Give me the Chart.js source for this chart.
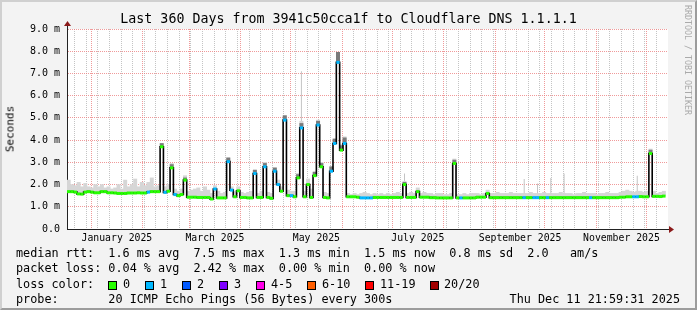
<!DOCTYPE html>
<html>
<head>
<meta charset="utf-8">
<script src="https://cdn.jsdelivr.net/npm/chart.js@4.4.0/dist/chart.umd.min.js"></script>
<style>
  html, body { margin: 0; padding: 0; background: #fff; }
  #wrap { position: relative; width: 697px; height: 310px; background: #f3f3f3; overflow: hidden;
          font-family: "DejaVu Sans Mono", monospace; color: #000; }
  #frame { position: absolute; left: 0; top: 0; width: 697px; height: 310px; box-sizing: border-box;
           border: 2px solid; border-color: #d0d0d0 #9c9c9c #9c9c9c #d0d0d0; pointer-events: none; }
  canvas { position: absolute; left: 0; top: 0; }
  .t { position: absolute; white-space: pre; }
  #title { left: 0; width: 697px; text-align: center; top: 11px; font-size: 13.3px; line-height: 16px; }
  #ylab { left: 10px; top: 129px; font-size: 11px; transform: translate(-50%, -50%) rotate(-90deg); }
  #credit { left: 683px; top: 5px; font-size: 8.3px; color: #aaa; writing-mode: vertical-rl; }
  #legend { left: 16px; top: 246px; font-size: 11.8px; line-height: 15.3px; margin: 0; }
  .k { position: absolute; top: 277px; font-size: 11.8px; line-height: 15.3px; white-space: pre; }
  .box { position: absolute; top: 281px; width: 7px; height: 7px; border: 1px solid #000; }
  #date { right: 17px; top: 292px; font-size: 11.8px; line-height: 15.3px; }
</style>
</head>
<body>
<div id="wrap">
  <canvas id="myChart" width="697" height="310"></canvas>
  <div class="t" id="title">Last 360 Days from 3941c50cca1f to Cloudflare DNS 1.1.1.1</div>
  <div class="t" id="ylab">Seconds</div>
  <div class="t" id="credit">RRDTOOL / TOBI OETIKER</div>
  <pre class="t" id="legend">median rtt:  1.6 ms avg  7.5 ms max  1.3 ms min  1.5 ms now  0.8 ms sd  2.0   am/s
packet loss: 0.04 % avg  2.42 % max  0.00 % min  0.00 % now
loss color:
probe:       20 ICMP Echo Pings (56 Bytes) every 300s</pre>
  <div id="lossKey"></div>
  <div class="t" id="date">Thu Dec 11 21:59:31 2025</div>
  <div id="frame"></div>
</div>
<script>
// days counted from 2025-01-01, one sample every 2 days
const firstDay = -13.5;
const stepDays = 2;

// median rtt (ms)
const median = [
  1.68, 1.68, 1.66, 1.58, 1.57, 1.66, 1.68, 1.66, 1.63, 1.63, 1.68, 1.68, 1.63, 1.63, 1.62, 1.60, 1.60, 1.60, 1.62, 1.62,
  1.62, 1.63, 1.62, 1.62, 1.66, 1.68, 1.68, 1.68, 3.70, 1.65, 1.70, 2.75, 1.55, 1.50, 1.55, 2.20, 1.43, 1.43, 1.43, 1.42,
  1.42, 1.42, 1.42, 1.35, 1.80, 1.40, 1.40, 1.40, 3.03, 1.75, 1.45, 1.72, 1.42, 1.42, 1.40, 1.40, 2.50, 1.42, 1.42, 2.80,
  1.42, 1.38, 2.60, 2.00, 1.70, 4.90, 1.50, 1.50, 1.45, 2.30, 4.55, 1.45, 2.00, 1.42, 2.40, 4.68, 2.80, 1.42, 1.40, 2.60,
  3.85, 7.50, 3.55, 3.85, 1.45, 1.45, 1.45, 1.43, 1.40, 1.40, 1.40, 1.40, 1.42, 1.42, 1.42, 1.42, 1.42, 1.42, 1.42, 1.42,
  1.42, 2.00, 1.42, 1.42, 1.42, 1.68, 1.43, 1.43, 1.43, 1.41, 1.41, 1.40, 1.40, 1.40, 1.40, 1.40, 2.95, 1.40, 1.40, 1.40,
  1.40, 1.40, 1.40, 1.43, 1.43, 1.43, 1.60, 1.41, 1.41, 1.41, 1.41, 1.41, 1.41, 1.41, 1.41, 1.41, 1.41, 1.41, 1.41, 1.41,
  1.41, 1.41, 1.41, 1.41, 1.41, 1.41, 1.41, 1.41, 1.41, 1.41, 1.41, 1.41, 1.41, 1.41, 1.41, 1.41, 1.41, 1.41, 1.41, 1.41,
  1.41, 1.41, 1.41, 1.41, 1.41, 1.41, 1.43, 1.43, 1.45, 1.45, 1.45, 1.45, 1.46, 1.45, 1.45, 3.40, 1.47, 1.47, 1.46, 1.48
];

// lost pings per sample (index into lossColors)
const loss = [
  0, 0, 0, 0, 0, 0, 0, 0, 0, 0, 0, 0, 0, 0, 0, 0, 0, 0, 0, 0,
  0, 0, 0, 0, 1, 0, 0, 0, 0, 1, 0, 0, 1, 0, 0, 0, 0, 0, 0, 0,
  0, 0, 0, 0, 1, 0, 0, 0, 1, 1, 0, 0, 0, 0, 0, 0, 1, 0, 0, 1,
  0, 0, 1, 1, 0, 1, 0, 1, 0, 0, 1, 0, 0, 0, 0, 1, 0, 0, 0, 1,
  1, 1, 0, 1, 0, 0, 0, 0, 1, 1, 1, 1, 0, 0, 0, 0, 0, 0, 0, 0,
  0, 0, 0, 0, 0, 0, 0, 0, 0, 0, 0, 0, 0, 0, 0, 0, 0, 0, 1, 0,
  0, 0, 0, 0, 0, 0, 0, 0, 0, 0, 0, 0, 0, 0, 0, 0, 0, 1, 0, 0,
  1, 1, 0, 0, 1, 0, 0, 0, 0, 0, 0, 0, 0, 0, 0, 0, 0, 1, 0, 0,
  0, 0, 0, 0, 0, 0, 0, 0, 0, 0, 1, 1, 0, 0, 0, 0, 0, 0, 0, 0
];

// top of the smoke (slowest ping, ms)
const smokeHi = [
  2.20, 2.00, 1.95, 2.10, 1.90, 2.05, 1.90, 1.85, 2.00, 1.90, 2.00, 1.85, 1.90, 1.80, 1.85, 2.00, 1.80, 2.20, 1.90, 2.00,
  2.25, 1.90, 2.10, 1.95, 2.10, 2.30, 1.90, 1.95, 3.80, 1.90, 2.00, 2.95, 1.80, 1.70, 1.80, 2.40, 1.70, 1.75, 1.80, 1.85,
  1.70, 1.90, 1.75, 1.60, 1.95, 1.70, 1.60, 1.65, 3.20, 1.90, 1.70, 1.90, 1.65, 1.60, 1.65, 1.70, 2.65, 1.60, 1.70, 3.00,
  1.65, 1.60, 2.75, 2.20, 1.90, 5.10, 1.75, 1.70, 1.70, 2.50, 4.85, 1.70, 2.25, 1.80, 2.60, 4.90, 3.00, 1.65, 1.60, 2.80,
  4.05, 7.95, 3.80, 4.15, 1.60, 1.55, 1.60, 1.55, 1.60, 1.65, 1.60, 1.55, 1.60, 1.55, 1.60, 1.55, 1.60, 1.55, 1.60, 1.65,
  1.60, 2.15, 1.60, 1.65, 1.60, 1.85, 1.60, 1.65, 1.60, 1.60, 1.55, 1.60, 1.60, 1.55, 1.55, 1.60, 3.15, 1.55, 1.55, 1.60,
  1.55, 1.60, 1.60, 1.60, 1.55, 1.60, 1.75, 1.60, 1.60, 1.65, 1.60, 1.60, 1.60, 1.65, 1.60, 1.60, 1.60, 1.60, 1.60, 1.65,
  1.60, 1.60, 1.60, 1.65, 1.60, 1.60, 1.60, 1.60, 1.65, 1.60, 1.60, 1.60, 1.55, 1.60, 1.60, 1.65, 1.60, 1.60, 1.60, 1.55,
  1.60, 1.60, 1.65, 1.60, 1.60, 1.60, 1.65, 1.70, 1.75, 1.70, 1.65, 1.70, 1.70, 1.65, 1.70, 3.60, 1.70, 1.60, 1.65, 1.70
];

// single slow pings that show as thin smoke lines
const outIdx = [70, 101, 137, 141, 145, 149, 171];
const outTop = [7.10, 2.50, 2.25, 2.05, 2.30, 2.50, 2.40];

// dense (dark) smoke above the median on the spikes
const darkIdx = [28, 31, 35, 48, 56, 59, 62, 65, 69, 70, 74, 75, 76, 79, 80, 81, 82, 83, 101, 116, 175];
const darkTop = [3.85, 2.90, 2.30, 3.20, 2.65, 2.95, 2.75, 5.10, 2.45, 4.75, 2.55, 4.85, 2.95, 2.80, 4.05, 7.95, 3.75, 4.10, 2.10, 3.10, 3.55];

const lossLabels = ['0', '1', '2', '3', '4-5', '6-10', '11-19', '20/20'];
const lossColors = ['#26ff00', '#00b8ff', '#0059ff', '#7e00ff', '#ff00ea', '#ff5e00', '#ff0000', '#a10000'];

const monthStarts = [0, 31, 59, 90, 120, 151, 181, 212, 243, 273, 304, 334];
const monthLabels = ['January 2025', 'March 2025', 'May 2025', 'July 2025', 'September 2025', 'November 2025'];
const monthLabelDays = [15.5, 74.5, 135.5, 196.5, 258, 319];
const yTickValues = [0, 1, 2, 3, 4, 5, 6, 7, 8, 9];
const yTickLabels = ['0.0', '1.0 m', '2.0 m', '3.0 m', '4.0 m', '5.0 m', '6.0 m', '7.0 m', '8.0 m', '9.0 m'];

// loss colour key under the graph
const keyBoxX = [108, 145, 182, 219, 256, 307, 365, 430];
const keyTextX = [123, 160, 197, 234, 271, 322, 380, 444];
const key = document.getElementById('lossKey');
lossLabels.forEach((lab, i) => {
  const b = document.createElement('div');
  b.className = 'box';
  b.style.left = keyBoxX[i] + 'px';
  b.style.background = lossColors[i];
  key.appendChild(b);
  const s = document.createElement('div');
  s.className = 'k';
  s.style.left = keyTextX[i] + 'px';
  s.textContent = lab;
  key.appendChild(s);
});

const xs = median.map((_, i) => firstDay + i * stepDays);

// grid: sundays (minor) and first of month (major)
const weekDays = [];
for (let d = -10; d <= 345; d += 7) weekDays.push(d);
const xTickDays = [...new Set([...weekDays, ...monthStarts, ...monthLabelDays])].sort((a, b) => a - b);
const yMinor = [];
for (let v = 0; v <= 9; v += 0.5) yMinor.push(v);

const RED = 'rgba(235, 120, 120, 0.75)';
const GRAY = 'rgba(190, 190, 190, 0.9)';
const X_MIN = -14.5, X_MAX = 347;

const rrdFrame = {
  id: 'rrdFrame',
  beforeDraw(chart) {
    const { ctx, chartArea: a } = chart;
    ctx.save();
    ctx.fillStyle = '#fff';
    ctx.fillRect(a.left, a.top, a.right - a.left, a.bottom - a.top);
    ctx.restore();
  },
  afterDraw(chart) {
    const { ctx, chartArea: a } = chart;
    const x0 = Math.round(a.left) + 0.5;
    const y0 = Math.round(a.bottom) + 0.5;
    ctx.save();
    ctx.strokeStyle = '#222';
    ctx.lineWidth = 1;
    ctx.beginPath();
    ctx.moveTo(x0, a.top);
    ctx.lineTo(x0, a.top - 4);
    ctx.moveTo(a.right, y0);
    ctx.lineTo(a.right + 1, y0);
    ctx.stroke();
    ctx.fillStyle = '#8b1a1a';
    ctx.beginPath();
    ctx.moveTo(x0, a.top - 8);
    ctx.lineTo(x0 - 3.5, a.top - 3);
    ctx.lineTo(x0 + 3.5, a.top - 3);
    ctx.fill();
    ctx.beginPath();
    ctx.moveTo(a.right + 6, y0);
    ctx.lineTo(a.right + 1, y0 - 3.5);
    ctx.lineTo(a.right + 1, y0 + 3.5);
    ctx.fill();
    ctx.restore();
  }
};

Chart.defaults.font.family = '"DejaVu Sans Mono", monospace';

const smokeBar = { type: 'bar', xAxisID: 'xd', grouped: false, barPercentage: 1, categoryPercentage: 1 };

const ctx = document.getElementById('myChart').getContext('2d');
const myChart = new Chart(ctx, {
  type: 'line',
  data: {
    datasets: [
      {
        label: 'loss colour',
        data: xs.map((x, i) => ({ x, y: median[i] })),
        showLine: false,
        pointStyle: 'line',
        pointRadius: 1.7,
        pointBorderWidth: 3,
        pointBorderColor: loss.map(l => lossColors[l]),
        order: 0
      },
      {
        label: 'median rtt',
        data: xs.map((x, i) => ({ x, y: median[i] })),
        stepped: 'middle',
        borderColor: '#000',
        borderWidth: 1.6,
        pointRadius: 0,
        order: 1
      },
      {
        ...smokeBar,
        label: 'dense smoke',
        data: darkIdx.map((k, j) => ({ x: xs[k], y: [median[k], darkTop[j]] })),
        backgroundColor: '#7a7a7a',
        order: 2
      },
      {
        ...smokeBar,
        label: 'smoke',
        data: xs.map((x, i) => ({ x, y: [median[i], smokeHi[i]] })),
        backgroundColor: '#d6d6d6',
        order: 3
      },
      {
        ...smokeBar,
        label: 'smoke outliers',
        data: outIdx.map((k, j) => ({ x: xs[k], y: [median[k], outTop[j]] })),
        backgroundColor: '#c4c4c4',
        barPercentage: 0.3,
        order: 4
      }
    ]
  },
  options: {
    responsive: false,
    animation: false,
    layout: { padding: { top: 29, right: 29, bottom: 61, left: 0 } },
    plugins: { legend: { display: false }, tooltip: { enabled: false } },
    scales: {
      x: {
        type: 'linear',
        min: X_MIN,
        max: X_MAX,
        offset: false,
        afterBuildTicks: s => { s.ticks = xTickDays.map(v => ({ value: v })); },
        afterFit: s => { s.height = 20; },
        grid: {
          offset: false,
          drawTicks: false,
          color: c => {
            const v = c.tick ? c.tick.value : null;
            if (monthStarts.includes(v)) return RED;
            if (weekDays.includes(v)) return GRAY;
            return 'rgba(0,0,0,0)';
          }
        },
        border: { color: '#222', width: 1, dash: [1, 1] },
        ticks: {
          autoSkip: false,
          maxRotation: 0,
          padding: 4,
          color: '#000',
          font: { size: 9.8 },
          callback: v => {
            const k = monthLabelDays.indexOf(v);
            return k >= 0 ? monthLabels[k] : '';
          }
        }
      },
      // hidden twin of x, only so the smoke bars get a 2-day width
      xd: {
        type: 'linear',
        position: 'bottom',
        display: false,
        min: X_MIN,
        max: X_MAX,
        offset: false,
        grid: { offset: false }
      },
      y: {
        min: 0,
        max: 9,
        afterBuildTicks: s => { s.ticks = yMinor.map(v => ({ value: v })); },
        afterFit: s => { s.width = 67; },
        grid: {
          drawTicks: false,
          color: c => (c.tick && Number.isInteger(c.tick.value) ? RED : GRAY)
        },
        border: { color: '#222', width: 1, dash: [1, 1] },
        ticks: {
          padding: 7,
          color: '#000',
          font: { size: 10 },
          callback: v => {
            const k = yTickValues.indexOf(v);
            return k >= 0 ? yTickLabels[k] : '';
          }
        }
      }
    }
  },
  plugins: [rrdFrame]
});
</script>
</body>
</html>
